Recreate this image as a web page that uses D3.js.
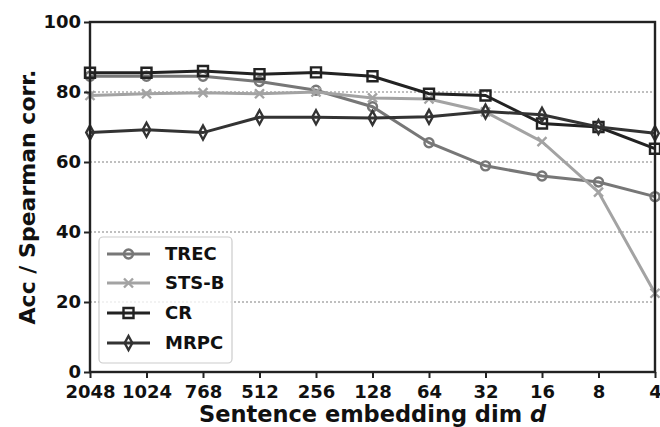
<!DOCTYPE html>
<html>
<head>
<meta charset="utf-8">
<script src="https://cdn.jsdelivr.net/npm/d3@7"></script>
<style>
  body { margin: 0; background: #fff; }
  text { font-family: "DejaVu Sans", sans-serif; font-weight: bold; fill: #111; }
</style>
</head>
<body>
<script>
// data
var dims = ["2048", "1024", "768", "512", "256", "128", "64", "32", "16", "8", "4"];
var trec = [84.5, 84.5, 84.5, 83, 80.5, 75.8, 65.5, 58.9, 56, 54.3, 50.1];
var stsb = [79, 79.5, 79.8, 79.5, 80, 78.3, 78, 74.3, 65.8, 51.4, 22.5];
var cr   = [85.5, 85.5, 86, 85.1, 85.6, 84.5, 79.5, 79, 71, 70, 63.8];
var mrpc = [68.4, 69.2, 68.4, 72.8, 72.8, 72.6, 72.9, 74.4, 73.5, 70, 68.2];
var yTicks = [0, 20, 40, 60, 80, 100];
var gridTicks = [20, 40, 60, 80];

var series = [
  {name: "TREC",  values: trec, color: "#777777", marker: "circle"},
  {name: "STS-B", values: stsb, color: "#a3a3a3", marker: "x"},
  {name: "CR",    values: cr,   color: "#222222", marker: "square"},
  {name: "MRPC",  values: mrpc, color: "#333333", marker: "diamond"}
];

var width = 660, height = 427;
var plotL = 90, plotR = 655, plotT = 22, plotB = 372;

var svg = d3.select("body").append("svg")
  .attr("width", width)
  .attr("height", height);

var x = d3.scalePoint().domain(dims).range([plotL, plotR]);
var y = d3.scaleLinear().domain([0, 100]).range([plotB, plotT]);

// dotted grid
svg.append("g").selectAll("line")
  .data(gridTicks)
  .enter().append("line")
  .attr("x1", plotL).attr("x2", plotR)
  .attr("y1", function(d) { return y(d); })
  .attr("y2", function(d) { return y(d); })
  .style("stroke", "#aaaaaa")
  .style("stroke-width", 1.5)
  .style("stroke-dasharray", "2,2");

// markers as path strings centred on 0,0
function markerPath(type) {
  if (type == "circle") return "M-4.5,0A4.5,4.5 0 1,0 4.5,0A4.5,4.5 0 1,0 -4.5,0Z";
  if (type == "square") return "M-5,-5H5V5H-5Z";
  if (type == "diamond") return "M0,-7L3.8,0L0,7L-3.8,0Z";
  return "M-4.5,-4.5L4.5,4.5M-4.5,4.5L4.5,-4.5";
}

var line = d3.line()
  .x(function(d, i) { return x(dims[i]); })
  .y(function(d) { return y(d); });

series.forEach(function(s) {
  var g = svg.append("g");
  g.append("path")
    .attr("d", line(s.values))
    .style("fill", "none")
    .style("stroke", s.color)
    .style("stroke-width", 3);
  g.selectAll(".m")
    .data(s.values)
    .enter().append("path")
    .attr("transform", function(d, i) { return "translate(" + x(dims[i]) + "," + y(d) + ")"; })
    .attr("d", markerPath(s.marker))
    .style("fill", "none")
    .style("stroke", s.color)
    .style("stroke-width", 2.4);
});

// frame
svg.append("rect")
  .attr("x", plotL).attr("y", plotT)
  .attr("width", plotR - plotL).attr("height", plotB - plotT)
  .style("fill", "none")
  .style("stroke", "#222")
  .style("stroke-width", 2.4);

// axes
var xAxis = svg.append("g")
  .attr("transform", "translate(0," + plotB + ")")
  .call(d3.axisBottom(x).tickSize(6).tickPadding(7));
var yAxis = svg.append("g")
  .attr("transform", "translate(" + plotL + ",0)")
  .call(d3.axisLeft(y).tickValues(yTicks).tickSize(6).tickPadding(3));

[xAxis, yAxis].forEach(function(a) {
  a.select(".domain").remove();
  a.selectAll(".tick line").style("stroke", "#222").style("stroke-width", 2);
  a.selectAll(".tick text")
    .style("font-family", "DejaVu Sans")
    .style("font-weight", "bold")
    .style("font-size", "18px")
    .style("fill", "#111");
});

// axis titles
var xl = svg.append("text")
  .attr("x", (plotL + plotR) / 2)
  .attr("y", 422)
  .attr("text-anchor", "middle")
  .style("font-size", "22.5px");
xl.append("tspan").text("Sentence embedding dim ");
xl.append("tspan").style("font-style", "italic").text("d");

svg.append("text")
  .attr("transform", "translate(35," + (plotT + plotB) / 2 + ") rotate(-90)")
  .attr("text-anchor", "middle")
  .style("font-size", "22px")
  .text("Acc / Spearman corr.");

// legend
var lg = svg.append("g");
lg.append("rect")
  .attr("x", 99).attr("y", 237)
  .attr("width", 133).attr("height", 126)
  .attr("rx", 4)
  .style("fill", "rgba(255,255,255,0.8)")
  .style("stroke", "#cccccc")
  .style("stroke-width", 1.2);

var rowY = [254, 283, 313, 343];
series.forEach(function(s, i) {
  var r = lg.append("g").attr("transform", "translate(0," + rowY[i] + ")");
  r.append("line")
    .attr("x1", 107).attr("x2", 150)
    .style("stroke", s.color)
    .style("stroke-width", 3);
  r.append("path")
    .attr("transform", "translate(128.5,0)")
    .attr("d", markerPath(s.marker))
    .style("fill", "none")
    .style("stroke", s.color)
    .style("stroke-width", 2.4);
  r.append("text")
    .attr("x", 165)
    .attr("y", 0)
    .attr("dy", "0.36em")
    .style("font-size", "18px")
    .text(s.name);
});
</script>
</body>
</html>
